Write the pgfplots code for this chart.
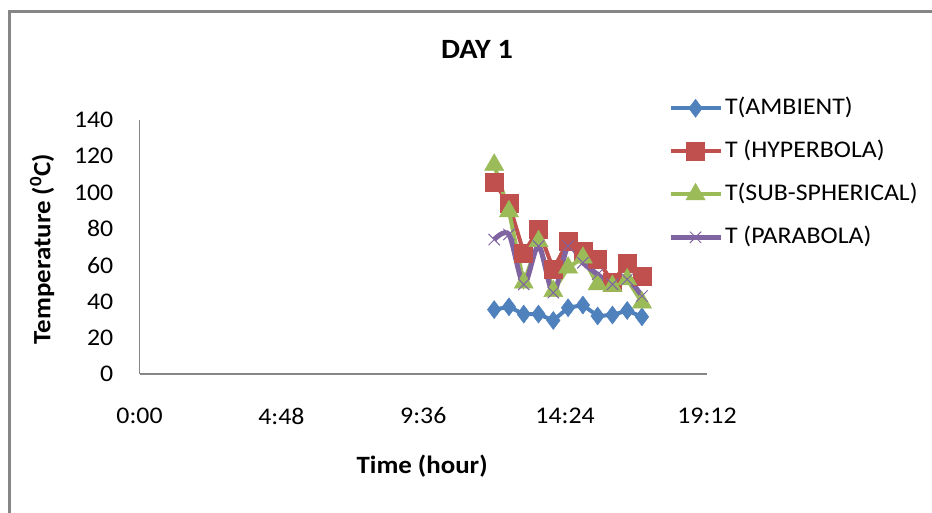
\documentclass[border=0pt]{standalone}
\usepackage{pgfplots}
\pgfplotsset{compat=1.18}
\usepackage{fontspec}
\setmainfont{Carlito}[FakeStretch=1.08]
\definecolor{cAmb}{HTML}{4F81BD}
\definecolor{cHyp}{HTML}{C0504D}
\definecolor{cSub}{HTML}{9BBB59}
\definecolor{cPar}{HTML}{8064A2}
\definecolor{cGrid}{HTML}{868686}
\begin{document}
\begin{tikzpicture}
\useasboundingbox (0,0) rectangle (932bp,513bp);
\draw[cGrid, line width=3bp] (9bp,0bp) -- (9bp,501bp) -- (932bp,501bp);
\begin{axis}[
  at={(139.5bp,139bp)}, anchor=south west,
  scale only axis, width=567.5bp, height=254bp,
  xmin=0, xmax=19.2, ymin=0, ymax=140,
  axis x line*=bottom, axis y line*=left,
  axis line style={cGrid, line width=1.3bp, -},
  major tick length=0pt,
  xtick={0,4.8,9.6,14.4,19.2},
  xticklabels={0:00,4:48,9:36,14:24,19:12},
  ytick={0,20,...,140},
  /pgf/number format/assume math mode=true,
  tick label style={font=\fontsize{24}{28}\selectfont},
  xticklabel style={anchor=center, yshift=-42bp},
  yticklabel style={anchor=east, inner sep=0pt, xshift=-26bp},
  title={DAY 1},
  title style={at={(axis description cs:0.5947,1.256)}, anchor=center, font=\fontsize{28}{32}\selectfont\bfseries},
  xlabel={Time (hour)},
  ylabel={Temperature (\textsuperscript{0}C)},
  every axis x label/.style={at={(axis description cs:0.498,-0.362)}, anchor=center, font=\fontsize{25}{29}\selectfont\bfseries},
  every axis y label/.style={at={(axis description cs:-0.1718,0.492)}, rotate=90, anchor=center, font=\fontsize{25}{29}\selectfont\bfseries},
  legend style={at={(axis description cs:0.931,1.098)}, anchor=north west, draw=none, fill=none, inner sep=0pt,
    font=\fontsize{24}{28}\selectfont, row sep=17bp,
    nodes={inner sep=2bp, text height=17bp, text depth=5bp}},
  legend cell align=left,
  legend image code/.code={\draw[mark repeat=2,mark phase=2,#1] plot coordinates {(0bp,0bp) (25bp,0bp) (50bp,0bp)};},
  clip=false,
]
\addplot[cAmb, line width=4bp, mark=diamond*, mark size=9bp, mark options={solid, line width=0.5bp, fill=cAmb}]
  coordinates {(12,35.5) (12.5,37) (13,33) (13.5,33) (14,29.5) (14.5,36.5) (15,38) (15.5,32) (16,32.5) (16.5,35) (17,31.5)};
\addlegendentry{T(AMBIENT)}
\addplot[cHyp, line width=4bp, mark=square*, mark size=9bp, mark options={solid, line width=0.5bp, fill=cHyp}]
  coordinates {(12,105.6) (12.5,93.9) (13,66.8) (13.5,79.6) (14,57.7) (14.5,73.2) (15,67.7) (15.5,63.2) (16,50.4) (16.5,61.3) (17,54)};
\addlegendentry{T (HYPERBOLA)}
\addplot[cSub, line width=4bp, mark=triangle*, mark size=11bp, mark options={solid, line width=0.5bp, fill=cSub}]
  coordinates {(12,115.3) (12.5,89.7) (13,50.3) (13.5,73.2) (14,45.7) (14.5,58.6) (15,64.1) (15.5,49.4) (16,48.5) (16.5,52.2) (17,39.4)};
\addlegendentry{T(SUB-SPHERICAL)}
\addplot[cPar, line width=5bp, smooth, tension=0.5, mark=x, mark size=8bp, mark options={solid, line width=1bp}]
  coordinates {(12,74.1) (12.5,76.9) (13,49.4) (13.5,70.5) (14,44.8) (14.5,70.5) (15,61.3) (15.5,54.9) (16,49.4) (16.5,52.2) (17,43)};
\addlegendentry{T (PARABOLA)}
\end{axis}
\end{tikzpicture}
\end{document}
